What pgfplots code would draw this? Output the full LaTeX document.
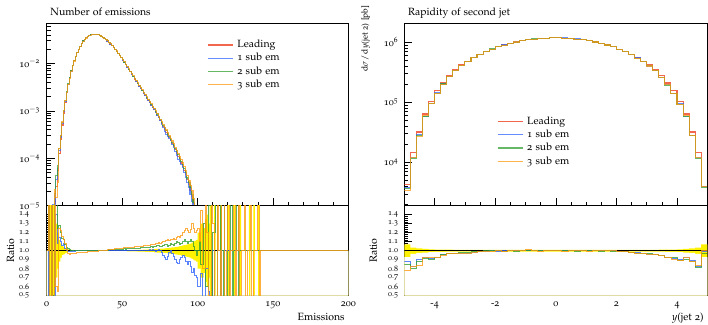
\documentclass[border=0pt]{standalone}
\usepackage[T1]{fontenc}
\usepackage[osf]{mathpazo}
\usepackage{pgfplots}
\pgfplotsset{compat=1.18}
\usepackage{pgfplotstable}

\definecolor{cLead}{HTML}{EE3311}
\definecolor{cOne}{HTML}{3366FF}
\definecolor{cTwo}{HTML}{33A033}
\definecolor{cThree}{HTML}{FF9A10}

\newcommand{\tenexp}[1]{\pgfmathtruncatemacro{\myexp}{round(#1)}\ifnum\myexp<0 10\textsuperscript{$-$\the\numexpr-\myexp\relax}\else 10\textsuperscript{\myexp}\fi}

\pgfplotstableread{
x lead r1 r2 r3 band
0 1e-7 1 1 1 0
1 1e-7 0.2 1.8 2.2 1.0
2 4e-7 2.1 0.3 0.1 1.0
3 1.5e-6 0.4 2.5 3.0 0.8
4 6.3e-6 1.7 0.5 0.3 0.6
5 1.12e-5 0.5 1.6 2.0 0.4
6 2.51e-5 1.4 1.7 0.6 0.3
7 5.62e-5 1.08 1.25 0.55 0.2
8 1.26e-4 1.15 1.28 1.25 0.12
9 2.51e-4 1.10 1.2 1.22 0.08
10 5.01e-4 1.06 1.14 1.16 0.05
11 8.91e-4 1.08 1.12 1.13 0.04
12 1.51e-3 1.02 1.07 1.08 0.03
13 2.40e-3 1.00 1.04 1.01 0.02
14 3.63e-3 0.99 1.02 0.97 0.015
15 5.01e-3 0.99 1.01 0.96 0.01
16 6.92e-3 0.99 1.00 0.97 0.01
17 9.12e-3 1.0 1.0 0.97 0.008
18 1.148e-2 0.995 1.0 0.975 0.006
19 1.413e-2 1.0 1.0 0.975 0.005
20 1.698e-2 1.0 0.998 0.978 0.005
21 1.995e-2 1.0 1.0 0.98 0.004
22 2.291e-2 0.998 1.0 0.98 0.004
23 2.630e-2 1.0 1.0 0.982 0.004
24 2.951e-2 1.0 1.0 0.984 0.004
25 3.236e-2 1.0 1.0 0.985 0.004
26 3.467e-2 1.0 1.0 0.986 0.004
27 3.673e-2 1.0 1.0 0.988 0.004
28 3.846e-2 1.0 1.0 0.99 0.004
29 3.981e-2 1.0 1.002 0.99 0.004
30 4.074e-2 1.0 1.002 0.992 0.004
31 4.121e-2 1.0 1.003 0.994 0.004
32 4.121e-2 1.0 1.003 0.995 0.004
33 4.074e-2 1.0 1.004 0.997 0.004
34 3.981e-2 1.0 1.004 0.998 0.004
35 3.846e-2 1.0 1.005 1.0 0.004
36 3.715e-2 1.0 1.005 1.002 0.004
37 3.548e-2 1.0 1.006 1.004 0.004
38 3.350e-2 1.0 1.006 1.006 0.004
39 3.162e-2 1.0 1.007 1.008 0.004
40 2.951e-2 1.0 1.008 1.01 0.005
41 2.754e-2 1.0 1.009 1.012 0.005
42 2.541e-2 1.0 1.01 1.014 0.005
43 2.344e-2 1.0 1.011 1.016 0.005
44 2.138e-2 1.0 1.012 1.018 0.005
45 1.950e-2 1.0 1.013 1.02 0.005
46 1.778e-2 1.002 1.014 1.022 0.005
47 1.603e-2 1.0 1.015 1.024 0.005
48 1.445e-2 1.002 1.016 1.026 0.006
49 1.303e-2 1.0 1.017 1.028 0.006
50 1.175e-2 1.002 1.018 1.03 0.006
51 1.047e-2 1.0 1.02 1.032 0.006
52 9.33e-3 1.003 1.018 1.034 0.006
53 8.32e-3 1.0 1.02 1.035 0.007
54 7.41e-3 1.004 1.022 1.036 0.007
55 6.61e-3 1.0 1.021 1.038 0.007
56 5.89e-3 1.004 1.024 1.04 0.007
57 5.25e-3 1.002 1.022 1.04 0.008
58 4.68e-3 1.005 1.026 1.042 0.008
59 4.17e-3 1.0 1.025 1.045 0.008
60 3.72e-3 1.002 1.028 1.046 0.009
61 3.31e-3 1.004 1.03 1.048 0.009
62 2.95e-3 1.0 1.031 1.05 0.01
63 2.63e-3 1.003 1.032 1.052 0.01
64 2.34e-3 1.006 1.034 1.055 0.011
65 2.09e-3 1.002 1.035 1.058 0.012
66 1.86e-3 1.0 1.036 1.06 0.013
67 1.66e-3 1.005 1.038 1.062 0.014
68 1.48e-3 1.01 1.04 1.064 0.015
69 1.32e-3 1.004 1.042 1.067 0.016
70 1.17e-3 1.01 1.04 1.07 0.017
71 1.05e-3 1.005 1.05 1.075 0.018
72 9.33e-4 0.99 1.045 1.08 0.019
73 8.13e-4 1.0 1.055 1.085 0.02
74 7.08e-4 1.01 1.06 1.09 0.021
75 6.17e-4 1.0 1.05 1.085 0.022
76 5.37e-4 0.98 1.045 1.095 0.023
77 4.68e-4 0.95 1.06 1.1 0.024
78 4.07e-4 0.92 1.07 1.1 0.026
79 3.55e-4 0.9 1.065 1.11 0.028
80 3.09e-4 0.94 1.05 1.12 0.03
81 2.69e-4 0.98 1.06 1.11 0.032
82 2.34e-4 1.0 1.08 1.12 0.034
83 2.04e-4 0.97 1.07 1.13 0.036
84 1.78e-4 0.94 1.06 1.14 0.038
85 1.51e-4 0.9 1.08 1.13 0.04
86 1.29e-4 0.87 1.1 1.15 0.043
87 1.10e-4 0.86 1.09 1.16 0.046
88 9.33e-5 0.9 1.07 1.15 0.05
89 7.94e-5 0.93 1.08 1.17 0.054
90 6.61e-5 0.95 1.1 1.2 0.058
91 5.50e-5 0.92 1.12 1.22 0.062
92 4.47e-5 0.88 1.1 1.25 0.066
93 3.55e-5 0.85 1.08 1.22 0.07
94 2.82e-5 0.88 1.1 1.2 0.075
95 2.14e-5 0.82 1.13 1.24 0.08
96 1.58e-5 0.76 1.1 1.3 0.09
97 1.12e-5 0.8 1.05 1.25 0.1
98 7.9e-6 0.72 1.0 1.2 0.11
99 5e-6 0.7 0.95 1.22 0.12
100 1e-7 0.6 1.0 1.25 0.2
101 1e-7 0.6 1.1 1.1 0.2
102 1e-7 0.75 0.85 1.45 0.3
103 1e-7 0.45 0.85 0.8 0.3
104 1e-7 0.45 1.3 0.8 0.25
105 1e-7 0.8 0.6 1.6 0.35
106 1e-7 0.8 0.6 1.2 0.4
107 1e-7 0.55 1.5 0.5 0.3
108 1e-7 0.4 1.5 0.5 0.5
109 1e-7 0.4 0.4 1.8 0
110 1e-7 1.0 1.2 1.3 0
111 1e-7 0.2 1.2 0.3 0.6
112 1e-7 0.2 1.7 0.3 0
113 1e-7 1.0 0.3 2.0 0
114 1e-7 1.0 0.3 1.0 0
115 1e-7 0.3 1.8 0.2 0.7
116 1e-7 1.0 1.0 1.7 0
117 1e-7 1.0 0.2 1.7 0
118 1e-7 1.0 1.9 0.1 0
119 1e-7 1.0 1.9 1.0 0
120 1e-7 1.0 0.1 2.0 0.8
121 1e-7 1.0 1.0 0.05 0
122 1e-7 1.0 1.8 1.0 0
123 1e-7 1.0 0.1 1.0 0
124 1e-7 1.0 1.0 2.0 1.0
125 1e-7 1.0 1.0 0.05 0
126 1e-7 1.0 2.0 1.0 0
127 1e-7 1.0 0.05 2.0 0
128 1e-7 1.0 1.0 0.05 1.0
129 1e-7 1.0 1.0 1.0 0
130 1e-7 1.0 1.0 1.0 0
131 1e-7 1.0 1.0 2.0 0
132 1e-7 1.0 1.0 0.05 0
133 1e-7 1.0 1.0 1.0 0
134 1e-7 1.0 1.0 1.0 1.0
135 1e-7 1.0 1.0 2.0 0
136 1e-7 1.0 1.0 0.05 0
137 1e-7 1.0 1.0 1.0 1.0
138 1e-7 1.0 1.0 1.0 0
139 1e-7 1.0 1.0 1.0 0
140 1e-7 1.0 1.0 2.0 1.0
141 1e-7 1.0 1.0 0.05 0
142 1e-7 1.0 1.0 1.0 0
200 1e-7 1.0 1.0 1.0 0
}\emdata

\pgfplotstableread{
x lead r1 r2 r3 band
-5.0 4.3e3 0.88 0.85 0.78 0.07
-4.8 1.45e4 0.82 0.80 0.82 0.035
-4.6 3.2e4 0.90 0.88 0.84 0.025
-4.4 6.4e4 0.92 0.91 0.93 0.02
-4.2 1.05e5 0.91 0.90 0.92 0.015
-4.0 1.55e5 0.93 0.92 0.92 0.013
-3.8 2.1e5 0.96 0.96 0.95 0.012
-3.6 2.75e5 0.97 0.97 0.97 0.011
-3.4 3.5e5 0.97 0.975 0.97 0.01
-3.2 4.2e5 0.975 0.98 0.97 0.01
-3.0 4.85e5 0.97 0.98 0.975 0.01
-2.8 5.6e5 0.985 0.99 0.98 0.01
-2.6 6.3e5 0.99 0.995 0.99 0.01
-2.4 7.0e5 0.995 1.0 0.99 0.01
-2.2 7.7e5 1.0 1.005 0.995 0.01
-2.0 8.4e5 0.995 1.0 1.0 0.01
-1.8 9.0e5 1.0 0.995 0.995 0.01
-1.6 9.6e5 1.0 1.0 1.0 0.01
-1.4 1.01e6 1.0 0.995 1.0 0.01
-1.2 1.06e6 1.005 1.0 1.0 0.01
-1.0 1.10e6 1.0 1.0 1.01 0.01
-0.8 1.13e6 1.0 1.005 1.0 0.01
-0.6 1.16e6 1.0 1.0 0.995 0.01
-0.4 1.175e6 1.0 1.0 1.0 0.01
-0.2 1.185e6 1.0 1.005 1.0 0.01
0.0 1.185e6 1.0 1.005 1.0 0.01
0.2 1.175e6 1.005 1.0 0.995 0.01
0.4 1.16e6 1.0 1.0 1.0 0.01
0.6 1.13e6 1.005 0.995 1.0 0.01
0.8 1.10e6 1.0 1.0 1.0 0.01
1.0 1.06e6 1.005 1.0 0.995 0.01
1.2 1.01e6 1.0 1.0 1.0 0.01
1.4 9.6e5 1.0 0.995 1.005 0.01
1.6 9.0e5 1.0 1.0 1.0 0.01
1.8 8.4e5 1.0 0.995 1.0 0.01
2.0 7.7e5 0.995 0.99 0.995 0.01
2.2 7.0e5 0.99 0.99 0.99 0.01
2.4 6.3e5 0.985 0.985 0.98 0.01
2.6 5.6e5 0.98 0.97 0.975 0.01
2.8 4.85e5 0.975 0.97 0.97 0.01
3.0 4.2e5 0.96 0.965 0.96 0.01
3.2 3.5e5 0.96 0.96 0.955 0.01
3.4 2.75e5 0.95 0.95 0.95 0.011
3.6 2.1e5 0.93 0.92 0.93 0.012
3.8 1.55e5 0.91 0.92 0.90 0.013
4.0 1.05e5 0.90 0.89 0.89 0.015
4.2 6.4e4 0.92 0.90 0.93 0.02
4.4 3.2e4 0.89 0.88 0.88 0.025
4.6 1.45e4 0.83 0.81 0.84 0.035
4.8 4.0e3 0.99 0.97 1.0 0.07
5.0 4.0e3 0.99 0.97 1.0 0.07
}\rapdata

\pgfplotsset{
  rivet/.style={
    scale only axis, anchor=south west,
    axis line style={line width=0.6pt},
    tick align=inside, xtick pos=bottom, ytick pos=left,
    major tick length=8pt, minor tick length=4pt,
    every tick/.style={black, line width=0.5pt},
    /pgf/number format/assume math mode=true,
    xticklabel style={font=\fontsize{10}{12}\selectfont, yshift=-2pt},
    yticklabel style={font=\fontsize{10}{12}\selectfont},
    legend cell align=left,
    legend image code/.code={\draw[##1, line width=1.3pt] (0pt,0pt) -- (25pt,0pt);},
    legend style={draw=none, fill=none, inner sep=0pt, anchor=north west,
      font=\fontsize{10.5}{12}\selectfont, row sep=1.8pt, column sep=3pt,
      nodes={inner sep=1pt, text height=7.5pt, text depth=2pt}},
    title style={anchor=base west, at={(0,1)}, yshift=1.8pt, font=\fontsize{10.5}{12}\selectfont},
    label style={font=\fontsize{10.5}{12}\selectfont},
  },
  ratio/.style={
    ymin=0.5, ymax=1.5, ytick={0.5,0.6,...,1.41}, minor y tick num=4,
    yticklabel style={font=\fontsize{8}{9}\selectfont,
      /pgf/number format/fixed, /pgf/number format/fixed zerofill,
      /pgf/number format/precision=1},
    ylabel=Ratio,
  },
  rhist/.style={const plot, line width=1.1pt, draw opacity=0.75},
  rrat/.style={const plot, line width=0.85pt, draw opacity=0.8},
}

\begin{document}
\fontsize{10.5}{12.6}\selectfont
\begin{tikzpicture}
\useasboundingbox (0pt,0pt) rectangle (708pt,324pt);

% ---------- left main ----------
\begin{axis}[rivet, at={(46.7pt,118.3pt)}, width=301.6pt, height=182.4pt,
  xmin=0, xmax=200, xtick={0,50,...,200}, minor x tick num=4, xticklabels={},
  ymode=log, log basis y=10, ymin=1e-5, ymax=0.0698,
  yticklabel={\tenexp{\tick}}, yticklabel style={xshift=-3pt},
  title={Number of emissions},
  legend style={at={(0.531,0.914)}}]
\addplot[rhist, cLead] table[x=x, y=lead] {\emdata};
\addlegendentry{Leading}
\addplot[rhist, cOne] table[x=x, y expr=\thisrow{lead}*\thisrow{r1}] {\emdata};
\addlegendentry{1 sub em}
\addplot[rhist, cTwo] table[x=x, y expr=\thisrow{lead}*\thisrow{r2}] {\emdata};
\addlegendentry{2 sub em}
\addplot[rhist, cThree] table[x=x, y expr=\thisrow{lead}*\thisrow{r3}] {\emdata};
\addlegendentry{3 sub em}
\end{axis}

% ---------- left ratio ----------
\begin{axis}[rivet, ratio, at={(46.7pt,28.3pt)}, width=301.6pt, height=90pt,
  xmin=0, xmax=200, xtick={0,50,...,200}, minor x tick num=4,
  yticklabel style={xshift=-14pt},
  xlabel=Emissions,
  xlabel style={at={(1,-0.27)}, anchor=base east},
  ylabel style={at={(-0.12,0.5)}, anchor=center}]
\addplot[const plot, draw=none, fill=yellow, forget plot] table[x=x, y expr=1+\thisrow{band}] {\emdata} \closedcycle;
\addplot[const plot, draw=none, fill=white, forget plot] table[x=x, y expr=1-\thisrow{band}] {\emdata} \closedcycle;
\addplot[black, line width=0.8pt, forget plot] coordinates {(0,1) (200,1)};
\addplot[rrat, cOne] table[x=x, y=r1] {\emdata};
\addplot[rrat, cTwo] table[x=x, y=r2] {\emdata};
\addplot[rrat, cThree] table[x=x, y=r3] {\emdata};
\end{axis}

% ---------- right main ----------
\begin{axis}[rivet, at={(404.3pt,118.3pt)}, width=303pt, height=182.4pt,
  xmin=-5, xmax=5, xtick={-4,-2,...,4}, minor x tick num=3, xticklabels={},
  ymode=log, log basis y=10, ymin=1.9e3, ymax=2.07e6,
  yticklabel={\tenexp{\tick}}, yticklabel style={xshift=-2.5pt},
  title={Rapidity of second jet},
  ylabel={d$\sigma$\hspace{1pt}/\hspace{1pt}d$y$(jet 2) [pb]},
  ylabel style={at={(-0.127,1.118)}, anchor=east, font=\fontsize{8.5}{10}\selectfont},
  legend style={at={(0.305,0.495)}}]
\addplot[rhist, cLead] table[x=x, y=lead] {\rapdata};
\addlegendentry{Leading}
\addplot[rhist, cOne] table[x=x, y expr=\thisrow{lead}*\thisrow{r1}] {\rapdata};
\addlegendentry{1 sub em}
\addplot[rhist, cTwo] table[x=x, y expr=\thisrow{lead}*\thisrow{r2}] {\rapdata};
\addlegendentry{2 sub em}
\addplot[rhist, cThree] table[x=x, y expr=\thisrow{lead}*\thisrow{r3}] {\rapdata};
\addlegendentry{3 sub em}
\end{axis}

% ---------- right ratio ----------
\begin{axis}[rivet, ratio, at={(404.3pt,28.3pt)}, width=303pt, height=90pt,
  xmin=-5, xmax=5, xtick={-4,-2,...,4}, minor x tick num=3,
  yticklabel style={xshift=-2.5pt},
  xlabel={$y$(jet 2)},
  xlabel style={at={(1,-0.27)}, anchor=base east},
  ylabel style={at={(-0.102,0.5)}, anchor=center}]
\addplot[const plot, draw=none, fill=yellow, forget plot] table[x=x, y expr=1+\thisrow{band}] {\rapdata} \closedcycle;
\addplot[const plot, draw=none, fill=white, forget plot] table[x=x, y expr=1-\thisrow{band}] {\rapdata} \closedcycle;
\addplot[black, line width=0.8pt, forget plot] coordinates {(-5,1) (5,1)};
\addplot[rrat, cOne] table[x=x, y=r1] {\rapdata};
\addplot[rrat, cTwo] table[x=x, y=r2] {\rapdata};
\addplot[rrat, cThree] table[x=x, y=r3] {\rapdata};
\end{axis}
\end{tikzpicture}
\end{document}
